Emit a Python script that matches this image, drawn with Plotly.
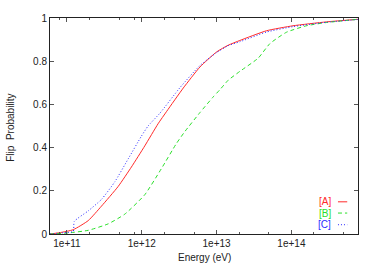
import numpy as np
import plotly.graph_objects as go

# log10(Energy/eV) and flip probability
logE_A = [10.773, 10.9, 11.084, 11.284, 11.461, 11.684, 11.861, 12.04, 12.217, 12.333,
          12.555, 12.777, 13.0, 13.155, 13.311, 13.667, 14.021, 14.467, 14.888]
prob_A = [0.0, 0.006, 0.020, 0.062, 0.129, 0.220, 0.310, 0.408, 0.510, 0.568,
          0.676, 0.773, 0.843, 0.874, 0.896, 0.941, 0.964, 0.982, 0.994]

logE_B = [10.773, 11.017, 11.284, 11.551, 11.773, 12.04, 12.261, 12.461, 12.577, 12.777,
          12.955, 13.044, 13.155, 13.311, 13.555, 13.711, 13.933, 14.2, 14.467, 14.888]
prob_B = [0.0, 0.005, 0.017, 0.047, 0.092, 0.182, 0.302, 0.418, 0.475, 0.562,
          0.635, 0.668, 0.712, 0.753, 0.814, 0.881, 0.934, 0.964, 0.979, 0.994]

logE_C = [10.773, 10.95, 11.084, 11.097, 11.284, 11.461, 11.64, 11.817, 11.995, 12.084,
          12.244, 12.511, 12.777, 13.0, 13.155, 13.311, 13.667, 14.021, 14.467, 14.888]
prob_C = [0.0, 0.006, 0.012, 0.058, 0.107, 0.160, 0.242, 0.347, 0.453, 0.500,
          0.560, 0.678, 0.780, 0.840, 0.872, 0.890, 0.935, 0.960, 0.980, 0.993]

series_names = ["[A]", "[B]", "[C]"]
series_colors = ["#ff2a2a", "#2ae02a", "#2a2aff"]
series_dash = ["solid", "4px,3px", "1px,2px"]

x_tickvals = [1e11, 1e12, 1e13, 1e14]
x_ticktext = ["1e+11", "1e+12", "1e+13", "1e+14"]
x_minor = [8e10, 2e11, 5e11, 8e11, 2e12, 5e12, 2e13, 5e13, 2e14, 5e14]
y_tickvals = [0, 0.2, 0.4, 0.6, 0.8, 1]
y_ticktext = ["0", "0.2", "0.4", "0.6", "0.8", "1"]

FONT = "Liberation Sans, Arial, sans-serif"

fig = go.Figure()
datasets = [(logE_A, prob_A), (logE_B, prob_B), (logE_C, prob_C)]
for (lx, py), name, col, dash in zip(datasets, series_names, series_colors, series_dash):
    fig.add_trace(go.Scatter(
        x=[10 ** v for v in lx], y=py, mode="lines", name=name,
        line=dict(color=col, width=1, dash=dash, shape="spline", smoothing=0.5),
        showlegend=False,
    ))

axis_common = dict(
    showline=True, linecolor="#222", linewidth=1, mirror="allticks",
    ticks="inside", ticklen=4, tickcolor="#555", tickwidth=1,
    showgrid=False, zeroline=False,
    tickfont=dict(family=FONT, size=10, color="#222"),
)

fig.update_xaxes(
    type="log", range=[10.773, 14.89],
    tickmode="array", tickvals=x_tickvals, ticktext=x_ticktext,
    minor=dict(tickmode="array", tickvals=x_minor, ticks="inside", ticklen=2,
               tickcolor="#555", showgrid=False),
    **axis_common,
)
fig.update_yaxes(
    range=[0, 1],
    tickmode="array", tickvals=y_tickvals, ticktext=y_ticktext,
    **axis_common,
)

# legend drawn as text + sample lines (text left, sample right, as in gnuplot)
leg_y = [0.149, 0.097, 0.043]
for name, col, dash, yy in zip(series_names, series_colors, series_dash, leg_y):
    fig.add_annotation(xref="paper", yref="paper", x=0.918, y=yy, text=name,
                       showarrow=False, xanchor="right", yanchor="middle",
                       font=dict(family=FONT, size=10, color=col))
    fig.add_shape(type="line", xref="paper", yref="paper", x0=0.935, x1=0.965,
                  y0=yy, y1=yy, line=dict(color=col, width=1, dash=dash))

fig.add_annotation(xref="paper", yref="paper", x=0.5, y=-0.107, text="Energy (eV)",
                   showarrow=False, xanchor="center", yanchor="middle",
                   font=dict(family=FONT, size=10, color="#222"))
fig.add_annotation(xref="paper", yref="paper", x=-0.128, y=0.49,
                   text="Flip\u00a0\u00a0Probability", textangle=-90,
                   showarrow=False, xanchor="center", yanchor="middle",
                   font=dict(family=FONT, size=10, color="#222"))

fig.update_layout(
    width=375, height=263,
    margin=dict(l=50, r=17, t=12, b=29),
    paper_bgcolor="white", plot_bgcolor="white",
)

fig.write_html(
    "out.html",
    config={"displayModeBar": False},
    post_script="document.body.style.margin='0';document.body.style.padding='0';",
)
